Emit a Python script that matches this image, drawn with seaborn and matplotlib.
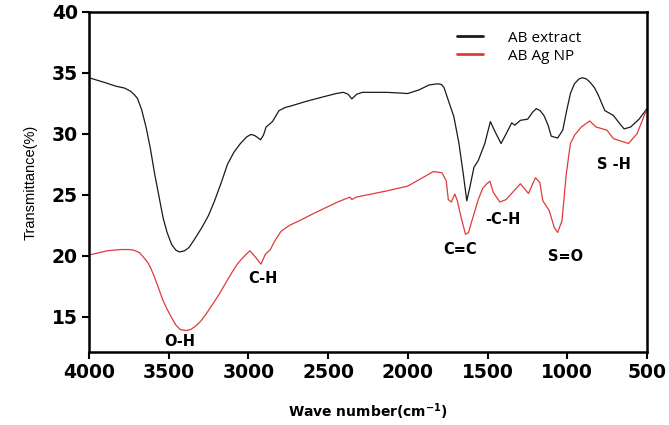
import pandas as pd
import matplotlib
matplotlib.use("Agg")
import matplotlib.pyplot as plt
import seaborn as sns

# FTIR spectra
wave_extract = [4000, 3900, 3830, 3777, 3740, 3715, 3696, 3670, 3642, 3615, 3588, 3560, 3535,
                3510, 3481, 3455, 3432, 3400, 3373, 3340, 3292, 3250, 3212, 3170, 3131, 3090,
                3050, 3010, 2983, 2960, 2943, 2924, 2905, 2889, 2849, 2808, 2770, 2728, 2640,
                2539, 2450, 2405, 2375, 2351, 2320, 2284, 2200, 2136, 2060, 2001, 1930, 1867,
                1813, 1790, 1773, 1746, 1711, 1679, 1652, 1630, 1611, 1585, 1558, 1517, 1482,
                1450, 1415, 1383, 1348, 1329, 1294, 1248, 1215, 1194, 1170, 1146, 1120, 1100,
                1060, 1028, 1005, 980, 955, 926, 904, 880, 859, 830, 806, 764, 710, 675, 643,
                603, 549, 500]
trans_extract = [34.6, 34.2, 33.9, 33.75, 33.5, 33.2, 32.9, 32.0, 30.55, 28.8, 26.7, 24.8, 23.1,
                 21.9, 20.9, 20.45, 20.3, 20.4, 20.66, 21.3, 22.3, 23.3, 24.5, 26.0, 27.5, 28.5,
                 29.2, 29.75, 29.95, 29.85, 29.7, 29.5, 29.9, 30.55, 31.0, 31.9, 32.15, 32.3,
                 32.65, 33.0, 33.3, 33.4, 33.25, 32.86, 33.25, 33.4, 33.4, 33.4, 33.35, 33.3,
                 33.6, 34.0, 34.1, 34.05, 33.8, 32.75, 31.4, 29.2, 26.7, 24.5, 25.6, 27.25, 27.8,
                 29.2, 31.0, 30.1, 29.2, 30.0, 30.9, 30.7, 31.1, 31.2, 31.8, 32.06, 31.9, 31.5,
                 30.7, 29.8, 29.65, 30.3, 31.8, 33.3, 34.1, 34.5, 34.6, 34.5, 34.26, 33.8, 33.2,
                 31.9, 31.5, 30.9, 30.4, 30.55, 31.2, 32.06]

wave_agnp = [4000, 3950, 3884, 3800, 3750, 3720, 3683, 3660, 3629, 3610, 3588, 3560, 3535, 3510,
             3481, 3455, 3427, 3387, 3360, 3333, 3300, 3266, 3230, 3185, 3145, 3104, 3070, 3037,
             2991, 2951, 2921, 2894, 2862, 2835, 2795, 2740, 2674, 2600, 2512, 2440, 2364, 2351,
             2324, 2230, 2136, 2070, 2001, 1920, 1840, 1786, 1759, 1746, 1727, 1705, 1689, 1665,
             1638, 1619, 1598, 1558, 1531, 1504, 1485, 1464, 1423, 1383, 1342, 1294, 1275, 1243,
             1199, 1172, 1153, 1113, 1081, 1060, 1033, 1006, 980, 953, 912, 859, 818, 751, 710,
             616, 562, 500]
trans_agnp = [20.05, 20.2, 20.4, 20.5, 20.5, 20.45, 20.25, 19.9, 19.4, 18.9, 18.2, 17.2, 16.3,
              15.6, 14.9, 14.3, 13.93, 13.85, 13.95, 14.2, 14.6, 15.2, 15.9, 16.8, 17.7, 18.6,
              19.3, 19.8, 20.4, 19.8, 19.3, 20.1, 20.5, 21.2, 22.0, 22.5, 22.9, 23.4, 23.95,
              24.4, 24.8, 24.6, 24.8, 25.05, 25.3, 25.5, 25.7, 26.3, 26.9, 26.8, 26.15, 24.6,
              24.4, 25.05, 24.5, 23.1, 21.75, 21.9, 22.85, 24.6, 25.5, 25.9, 26.1, 25.2, 24.4,
              24.6, 25.2, 25.9, 25.6, 25.1, 26.4, 26.0, 24.5, 23.7, 22.3, 21.9, 22.85, 26.7,
              29.2, 29.9, 30.55, 31.05, 30.55, 30.3, 29.6, 29.2, 30.0, 32.06]

band_labels = ["O-H", "C-H", "C=C", "-C-H", "S=O", "S -H"]
band_x = [3432, 2911, 1673, 1404, 1011, 705]
band_y = [12.97, 18.1, 20.5, 22.94, 19.9, 27.5]

df = pd.concat([
    pd.DataFrame({"wave": wave_extract, "T": trans_extract, "sample": "AB extract"}),
    pd.DataFrame({"wave": wave_agnp, "T": trans_agnp, "sample": "AB Ag NP"}),
])

sns.set_style("ticks")
plt.rcParams["font.family"] = ["DejaVu Sans"]
plt.rcParams["text.color"] = "black"
plt.rcParams["axes.labelcolor"] = "black"
plt.rcParams["xtick.color"] = "black"
plt.rcParams["ytick.color"] = "black"

fig, ax = plt.subplots(figsize=(6.69, 4.25), dpi=100)
fig.subplots_adjust(left=0.133, right=0.967, top=0.972, bottom=0.172)

sns.lineplot(data=df, x="wave", y="T", hue="sample", sort=False, estimator=None,
             palette={"AB extract": "#1a1a1a", "AB Ag NP": "#e03a3a"}, linewidth=0.9, ax=ax)

ax.set_xlim(4000, 500)
ax.set_ylim(12.1, 40)
ax.set_xticks(range(4000, 499, -500))
ax.set_yticks([15, 20, 25, 30, 35, 40])
for lab in ax.get_xticklabels() + ax.get_yticklabels():
    lab.set_fontweight("bold")
    lab.set_fontsize(13.5)
ax.tick_params(direction="out", length=5, width=1.5, pad=3)
for s in ax.spines.values():
    s.set_linewidth(1.8)
    s.set_color("black")

ax.set_xlabel("Wave number(cm$^{\\mathbf{-1}}$)", fontsize=10, fontweight="bold", labelpad=14)
ax.set_ylabel("Transmittance(%)", fontsize=10.5, labelpad=10,
              family=["Liberation Sans", "DejaVu Sans"])

for t, x, y in zip(band_labels, band_x, band_y):
    ax.text(x, y, t, fontsize=10.5, fontweight="bold", ha="center", va="center")

leg = ax.legend(loc="upper left", bbox_to_anchor=(0.66, 0.945), frameon=False,
                borderaxespad=0, borderpad=0,
                handlelength=1.7, handletextpad=1.6, labelspacing=0.2,
                prop={"family": "Open Sans", "size": 11})
for h in leg.get_lines():
    h.set_linewidth(2)

fig.savefig("out.png", dpi=100)
